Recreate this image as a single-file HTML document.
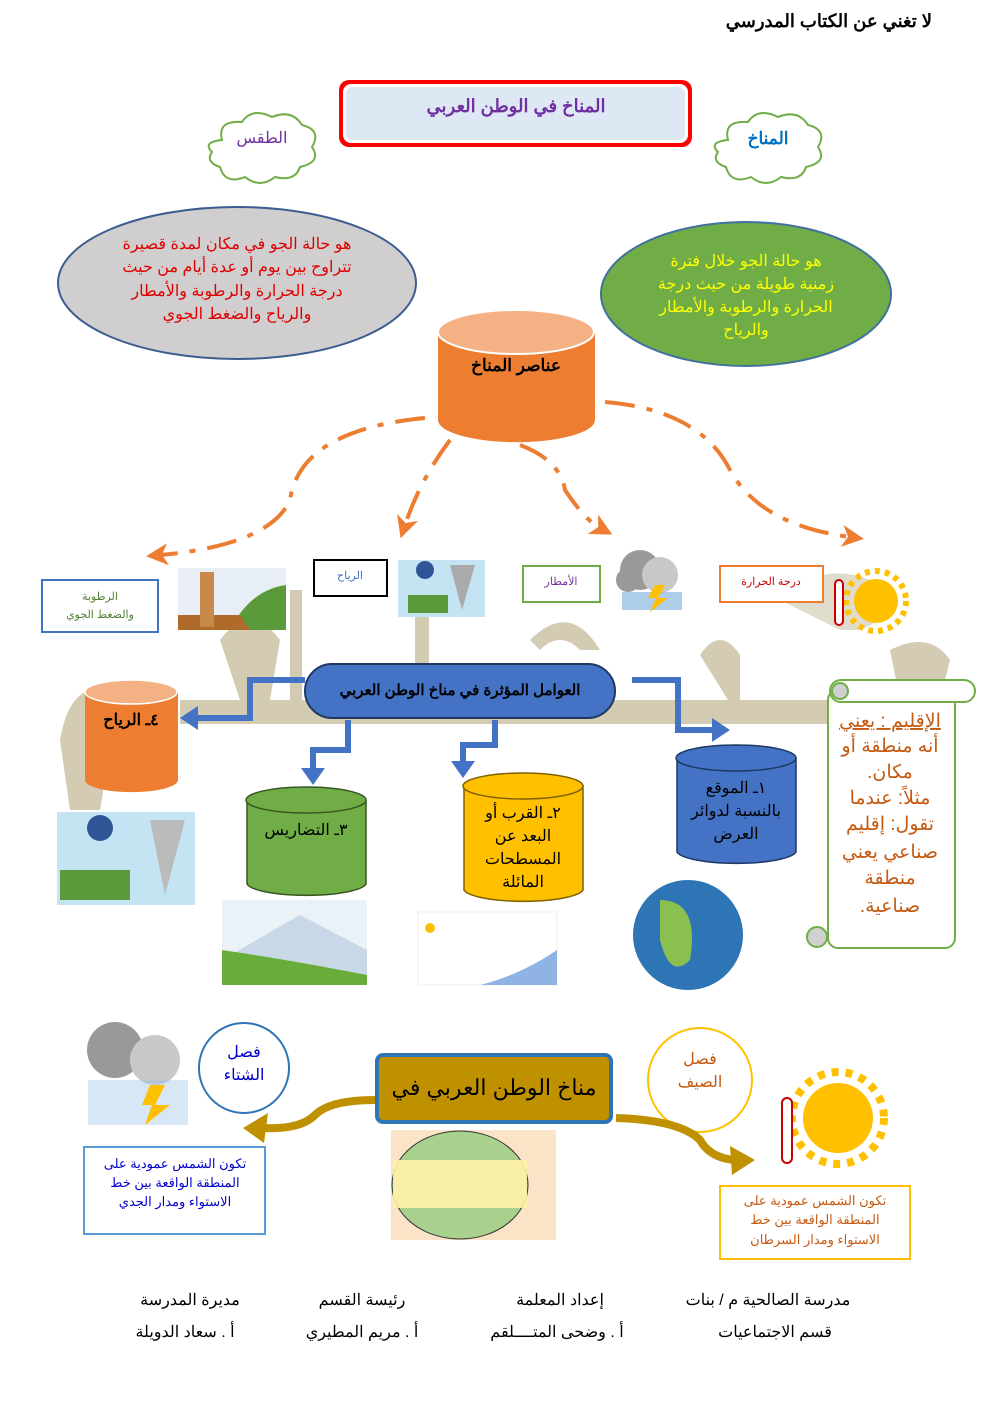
<!DOCTYPE html>
<html><head><meta charset="utf-8"><style>
html,body{margin:0;padding:0;background:#fff}
svg{display:block}
text{font-family:"Liberation Sans","Noto Sans CJK SC",sans-serif;direction:rtl}
</style></head><body>
<svg width="992" height="1403" viewBox="0 0 992 1403" xmlns="http://www.w3.org/2000/svg">
<defs>
<marker id="oa" markerWidth="22" markerHeight="22" refX="8" refY="11" orient="auto" markerUnits="userSpaceOnUse" viewBox="0 0 22 22"><path d="M0,0 L22,11 L0,22 L6,11 Z" fill="#ed7d31"/></marker>
</defs>
<!-- watermark -->
<g fill="#cbc3a6" opacity="0.85">
<rect x="180" y="700" width="650" height="24"/>
<path d="M60 740 q10 -60 50 -50 q30 10 0 60 l-10 60 l-30 0 z"/>
<path d="M780 600 q40 -40 90 -20 q40 30 -10 50 l-20 0 z" opacity="0.7"/>
<path d="M530 640 q40 -40 70 10 l-20 0 q-20 -20 -40 0 z"/>
<path d="M700 655 q20 -30 40 0 l0 45 l-12 0 z"/>
<path d="M415 600 l14 0 l0 100 l-14 0 z"/>
<path d="M290 590 l12 0 l0 110 l-12 0 z"/>
<path d="M220 640 q30 -40 60 0 l-10 60 l-30 0 z"/>
<path d="M890 650 q40 -20 60 10 l-10 40 l-40 0 z"/>
</g>
<text x="932" y="27" font-size="18" font-weight="bold" text-anchor="start">لا تغني عن الكتاب المدرسي</text>
<!-- title -->
<rect x="339" y="80" width="353" height="67" rx="10" fill="#ff0000"/>
<rect x="343" y="84" width="345" height="59" rx="8" fill="#fff"/>
<rect x="346" y="87" width="339" height="53" rx="7" fill="#dde8f4"/>
<text x="516" y="112" font-size="18" font-weight="bold" fill="#7030a0" text-anchor="middle">المناخ في الوطن العربي</text>
<!-- clouds -->
<g fill="#fff" stroke="#70ad47" stroke-width="2">
<path d="M222 140 q-5 -20 20 -18 q10 -15 30 -5 q20 -8 30 8 q20 5 10 22 q10 15 -12 20 q-5 15 -25 10 q-15 12 -30 0 q-20 8 -25 -10 q-15 -5 -8 -15 q-10 -10 10 -12z"/>
<path d="M728 140 q-5 -20 20 -18 q10 -15 30 -5 q20 -8 30 8 q20 5 10 22 q10 15 -12 20 q-5 15 -25 10 q-15 12 -30 0 q-20 8 -25 -10 q-15 -5 -8 -15 q-10 -10 10 -12z"/>
</g>
<text x="262" y="143" font-size="16" fill="#7030a0" text-anchor="middle">الطقس</text>
<text x="768" y="144" font-size="17" font-weight="bold" fill="#0070c0" text-anchor="middle">المناخ</text>
<!-- ellipses -->
<ellipse cx="237" cy="283" rx="179" ry="76" fill="#d0cece" stroke="#3b5d8f" stroke-width="2"/>
<g font-size="16" fill="#e00000" text-anchor="middle">
<text x="237" y="249">هو حالة الجو في مكان لمدة قصيرة</text>
<text x="237" y="272">تتراوح بين يوم أو عدة أيام من حيث</text>
<text x="237" y="296">درجة الحرارة والرطوبة والأمطار</text>
<text x="237" y="319">والرياح والضغط الجوي</text>
</g>
<ellipse cx="746" cy="294" rx="145" ry="72" fill="#70ad47" stroke="#41719c" stroke-width="2"/>
<g font-size="16" fill="#ffff00" text-anchor="middle">
<text x="746" y="266">هو حالة الجو خلال فترة</text>
<text x="746" y="289">زمنية طويلة من حيث درجة</text>
<text x="746" y="312">الحرارة والرطوبة والأمطار</text>
<text x="746" y="335">والرياح</text>
</g>
<!-- orange cylinder -->
<path d="M438 332 L438 420 A78 22 0 0 0 595 420 L595 332 Z" fill="#ed7d31"/>
<ellipse cx="516" cy="332" rx="78" ry="22" fill="#f4b183" stroke="#fff" stroke-width="2"/>
<text x="516" y="371" font-size="17" font-weight="bold" text-anchor="middle">عناصر المناخ</text>
<!-- dashed arcs -->
<g fill="none" stroke="#ed7d31" stroke-width="4" stroke-dasharray="30 12 6 12">
<path d="M425 418 Q 300 430 290 500 Q 270 545 160 555" marker-end="url(#oa)"/>
<path d="M450 440 Q 420 480 405 525" marker-end="url(#oa)"/>
<path d="M520 445 Q 560 460 565 490 Q 585 520 600 528" marker-end="url(#oa)"/>
<path d="M605 402 Q 700 410 730 470 Q 760 525 850 537" marker-end="url(#oa)"/>
</g>
<!-- small boxes -->
<rect x="42" y="580" width="116" height="52" fill="#fff" stroke="#4472c4" stroke-width="2"/>
<text x="100" y="600" font-size="11" fill="#548235" text-anchor="middle">الرطوبة</text>
<text x="100" y="618" font-size="11" fill="#548235" text-anchor="middle">والضغط الجوي</text>
<rect x="314" y="560" width="73" height="36" fill="#fff" stroke="#000" stroke-width="2"/>
<text x="350" y="579" font-size="11" fill="#4472c4" text-anchor="middle">الرياح</text>
<rect x="523" y="566" width="77" height="36" fill="#fff" stroke="#70ad47" stroke-width="2"/>
<text x="561" y="585" font-size="11" fill="#7030a0" text-anchor="middle">الأمطار</text>
<rect x="720" y="566" width="103" height="36" fill="#fff" stroke="#ed7d31" stroke-width="2"/>
<text x="771" y="585" font-size="11" fill="#c00000" text-anchor="middle">درجة الحرارة</text>
<!-- images approximations -->
<rect x="178" y="568" width="108" height="62" fill="#e8eef6"/>
<path d="M230 630 Q250 590 286 585 L286 630Z" fill="#5a9a3a"/>
<path d="M178 630 L178 615 L240 615 L250 630Z" fill="#b06a2a"/>
<rect x="200" y="572" width="14" height="55" fill="#c8894a"/>
<rect x="398" y="560" width="87" height="57" fill="#c5e4f3"/>
<path d="M450 565 L475 565 L462 610Z" fill="#aaa"/>
<circle cx="425" cy="570" r="9" fill="#2f5597"/>
<rect x="408" y="595" width="40" height="18" fill="#5a9a3a"/>
<g fill="#999"><circle cx="640" cy="570" r="20"/><circle cx="660" cy="575" r="18" fill="#c8c8c8"/><circle cx="628" cy="580" r="12"/></g>
<g fill="#5b9bd5"><rect x="622" y="592" width="60" height="18" opacity="0.5"/></g>
<path d="M655 585 L665 585 L658 598 L668 598 L650 612 L656 598 L648 598Z" fill="#ffc000"/>
<circle cx="876" cy="601" r="22" fill="#ffc000"/><circle cx="876" cy="601" r="30" fill="none" stroke="#ffc000" stroke-width="6" stroke-dasharray="5 5"/>
<rect x="835" y="580" width="8" height="45" rx="4" fill="#fff" stroke="#c00" stroke-width="2"/>
<!-- blue pill -->
<rect x="305" y="664" width="310" height="54" rx="27" fill="#4472c4" stroke="#1f3864" stroke-width="2"/>
<text x="460" y="695" font-size="15" font-weight="bold" text-anchor="middle">العوامل المؤثرة في مناخ الوطن العربي</text>
<!-- connectors -->
<g fill="none" stroke="#4472c4" stroke-width="6">
<path d="M305 680 L250 680 L250 718 L195 718"/>
<path d="M632 680 L678 680 L678 730 L718 730"/>
<path d="M348 720 L348 750 L313 750 L313 775"/>
<path d="M495 720 L495 745 L463 745 L463 768"/>
</g>
<g fill="#4472c4">
<path d="M180 718 L198 706 L198 730Z"/>
<path d="M730 730 L712 718 L712 742Z"/>
<path d="M313 785 L301 768 L325 768Z"/>
<path d="M463 778 L451 761 L475 761Z"/>
</g>
<!-- cylinders -->
<path d="M85 692 L85 780 A46 12 0 0 0 178 780 L178 692Z" fill="#ed7d31"/>
<ellipse cx="131" cy="692" rx="46" ry="12" fill="#f4b183" stroke="#fff" stroke-width="1.5"/>
<text x="131" y="725" font-size="16" font-weight="bold" text-anchor="middle">٤ـ الرياح</text>
<path d="M247 800 L247 884 A60 13 0 0 0 366 884 L366 800Z" fill="#70ad47" stroke="#385723" stroke-width="1.5"/>
<ellipse cx="306" cy="800" rx="60" ry="13" fill="#70ad47" stroke="#385723" stroke-width="1.5"/>
<text x="306" y="835" font-size="16" text-anchor="middle">٣ـ التضاريس</text>
<path d="M464 786 L464 890 A60 13 0 0 0 583 890 L583 786Z" fill="#ffc000" stroke="#7f6000" stroke-width="1.5"/>
<ellipse cx="523" cy="786" rx="60" ry="13" fill="#ffc000" stroke="#7f6000" stroke-width="1.5"/>
<g font-size="16" text-anchor="middle"><text x="523" y="818">٢ـ القرب أو</text><text x="523" y="841">البعد عن</text><text x="523" y="864">المسطحات</text><text x="523" y="887">المائلة</text></g>
<path d="M677 758 L677 852 A60 13 0 0 0 796 852 L796 758Z" fill="#4472c4" stroke="#1f3864" stroke-width="1.5"/>
<ellipse cx="736" cy="758" rx="60" ry="13" fill="#4472c4" stroke="#1f3864" stroke-width="1.5"/>
<g font-size="16" text-anchor="middle"><text x="736" y="793">١ـ الموقع</text><text x="736" y="816">بالنسبة لدوائر</text><text x="736" y="839">العرض</text></g>
<!-- scroll -->
<rect x="828" y="690" width="127" height="258" rx="10" fill="#fff" stroke="#70ad47" stroke-width="2"/>
<rect x="830" y="680" width="145" height="22" rx="11" fill="#fff" stroke="#70ad47" stroke-width="2"/>
<circle cx="840" cy="691" r="8" fill="#d0d0d0" stroke="#70ad47" stroke-width="2"/>
<circle cx="817" cy="937" r="10" fill="#d0d0d0" stroke="#70ad47" stroke-width="2"/>
<g font-size="19" fill="#c55a11" text-anchor="middle">
<text x="890" y="727" text-decoration="underline">الإقليم : يعني</text>
<text x="890" y="752">أنه منطقة أو</text><text x="890" y="778">مكان.</text>
<text x="890" y="804">مثلاً: عندما</text><text x="890" y="830">تقول: إقليم</text>
<text x="890" y="858">صناعي يعني</text><text x="890" y="884">منطقة</text><text x="890" y="912">صناعية.</text>
</g>
<!-- bottom images -->
<rect x="57" y="812" width="138" height="93" fill="#c5e4f3"/>
<path d="M150 820 L185 820 L165 895Z" fill="#bbb"/><circle cx="100" cy="828" r="13" fill="#2f5597"/>
<rect x="60" y="870" width="70" height="30" fill="#5a9a3a"/>
<rect x="222" y="900" width="145" height="85" fill="#eaf2f8"/>
<path d="M222 960 L300 915 L367 950 L367 985 L222 985Z" fill="#c9d8e6"/><path d="M222 985 L222 950 Q290 960 367 975 L367 985Z" fill="#6aac3a"/>
<rect x="418" y="912" width="139" height="73" fill="#fff" stroke="#eee"/>
<path d="M480 985 Q520 975 557 950 L557 985Z" fill="#8fb4e3"/><circle cx="430" cy="928" r="5" fill="#ffc000"/>
<circle cx="688" cy="935" r="55" fill="#2e75b6"/><path d="M660 900 Q700 900 690 960 Q670 980 660 940Z" fill="#8bbf50"/>
<!-- bottom section -->
<rect x="377" y="1055" width="234" height="67" rx="6" fill="#bf9000" stroke="#2e75b6" stroke-width="4"/>
<text x="494" y="1095" font-size="22" text-anchor="middle">مناخ الوطن العربي في</text>
<circle cx="244" cy="1068" r="45" fill="#fff" stroke="#2e75b6" stroke-width="2"/>
<text x="244" y="1057" font-size="16" fill="#0000cc" text-anchor="middle">فصل</text><text x="244" y="1080" font-size="16" fill="#0000cc" text-anchor="middle">الشتاء</text>
<circle cx="700" cy="1080" r="52" fill="#fff" stroke="#ffc000" stroke-width="2"/>
<text x="700" y="1064" font-size="16" fill="#c55a11" text-anchor="middle">فصل</text><text x="700" y="1087" font-size="16" fill="#c55a11" text-anchor="middle">الصيف</text>
<g fill="#999"><circle cx="115" cy="1050" r="28"/><circle cx="155" cy="1060" r="25" fill="#c8c8c8"/></g>
<rect x="88" y="1080" width="100" height="45" fill="#9dc3e6" opacity="0.4"/>
<path d="M150 1085 L165 1085 L155 1105 L170 1105 L145 1125 L152 1105 L142 1105Z" fill="#ffc000"/>
<circle cx="838" cy="1118" r="35" fill="#ffc000"/><circle cx="838" cy="1118" r="46" fill="none" stroke="#ffc000" stroke-width="8" stroke-dasharray="7 7"/>
<rect x="782" y="1098" width="10" height="65" rx="5" fill="#fff" stroke="#c00" stroke-width="2"/>
<path d="M375 1100 Q330 1100 315 1115 Q300 1130 262 1128" fill="none" stroke="#bf9000" stroke-width="8"/>
<path d="M243 1128 L268 1113 L264 1143Z" fill="#bf9000"/>
<path d="M616 1118 Q680 1120 700 1140 Q710 1158 735 1160" fill="none" stroke="#bf9000" stroke-width="8"/>
<path d="M755 1160 L730 1146 L732 1175Z" fill="#bf9000"/>
<rect x="84" y="1147" width="181" height="87" fill="#fff" stroke="#5b9bd5" stroke-width="2"/>
<g font-size="13" fill="#0000cc" text-anchor="middle"><text x="175" y="1168">تكون الشمس عمودية على</text><text x="175" y="1187">المنطقة الواقعة بين خط</text><text x="175" y="1206">الاستواء ومدار الجدي</text></g>
<rect x="720" y="1186" width="190" height="73" fill="#fff" stroke="#ffc000" stroke-width="2"/>
<g font-size="13" fill="#c55a11" text-anchor="middle"><text x="815" y="1205">تكون الشمس عمودية على</text><text x="815" y="1224">المنطقة الواقعة بين خط</text><text x="815" y="1244">الاستواء ومدار السرطان</text></g>
<rect x="391" y="1130" width="165" height="110" fill="#fbe3c8"/>
<ellipse cx="460" cy="1185" rx="68" ry="54" fill="#a9d18e" stroke="#333"/>
<rect x="393" y="1160" width="134" height="48" fill="#fff2a8" opacity="0.9"/>
<!-- footer -->
<g font-size="16" text-anchor="middle">
<text x="190" y="1305">مديرة المدرسة</text><text x="185" y="1337">أ . سعاد الدويلة</text>
<text x="362" y="1305">رئيسة القسم</text><text x="362" y="1337">أ . مريم المطيري</text>
<text x="560" y="1305">إعداد المعلمة</text><text x="557" y="1337">أ . وضحى المتــــلقم</text>
<text x="768" y="1305">مدرسة الصالحية م / بنات</text><text x="775" y="1337">قسم الاجتماعيات</text>
</g>
</svg>
</body></html>
